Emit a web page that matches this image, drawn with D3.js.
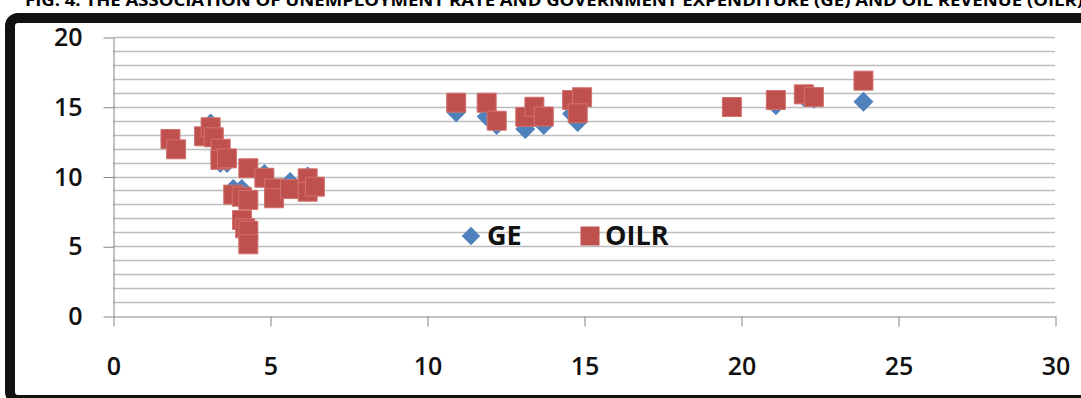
<!DOCTYPE html>
<html>
<head>
<meta charset="utf-8">
<script src="https://cdn.jsdelivr.net/npm/d3@7"></script>
<style>
  html, body { margin: 0; padding: 0; background: #fff; }
  svg { display: block; font-family: "Open Sans", sans-serif; }
</style>
</head>
<body>
<svg id="chart" width="1081" height="398"></svg>
<script>
// Unemployment rate (x) vs government expenditure and oil revenue (y)
const title = 'FIG. 4: THE ASSOCIATION OF UNEMPLOYMENT RATE AND GOVERNMENT EXPENDITURE (GE) AND OIL REVENUE (OILR)';
const unemp = [1.83, 2.01, 2.90, 3.11, 3.21, 3.43, 3.42, 3.63, 4.31, 4.82, 3.83, 4.10, 4.31, 4.11, 4.21, 4.31, 4.31,
               5.13, 5.13, 5.64, 6.20, 6.20, 6.43,
               10.93, 11.90, 12.22, 13.13, 13.42, 13.72, 14.62, 14.94, 14.80,
               19.71, 21.11, 22.00, 22.32, 23.90];
const ge = [12.6, 11.95, 12.9, 13.8, 12.8, 11.95, 10.97, 10.97, 10.6, 10.18, 9.1, 9.1, 8.4, 6.9, 6.3, 6.2, 5.2,
            9.15, 8.5, 9.6, 10.0, 8.9, 9.3,
            14.6, 14.3, 13.7, 13.4, 14.9, 13.7, 14.5, 15.3, 13.9,
            15.0, 15.1, 15.7, 15.6, 15.36];
const oilr = [12.69, 11.95, 12.88, 13.53, 12.81, 11.99, 11.2, 11.3, 10.59, 9.91, 8.7, 8.55, 8.32, 6.88, 6.29, 6.11, 5.14,
              9.15, 8.44, 9.1, 9.87, 8.91, 9.27,
              15.29, 15.29, 14.0, 14.27, 15.0, 14.3, 15.48, 15.68, 14.53,
              14.98, 15.48, 15.89, 15.7, 16.87];
const xTicks = [0, 5, 10, 15, 20, 25, 30];
const yTicks = [0, 5, 10, 15, 20];
const seriesNames = ['GE', 'OILR'];

const svg = d3.select('#chart');

// Title (mostly cut off at the top edge, as in the source)
svg.append('text')
    .attr('x', 25).attr('y', 6)
    .attr('textLength', 1058)
    .attr('lengthAdjust', 'spacingAndGlyphs')
    .style('font-size', '16px').style('font-weight', 700)
    .text(title);

// Black frame
svg.append('rect')
    .attr('x', 10).attr('y', 18)
    .attr('width', 1100).attr('height', 382)
    .attr('rx', 8)
    .attr('fill', 'none').attr('stroke', '#111').attr('stroke-width', 10);

const x = d3.scaleLinear().domain([0, 30]).range([113, 1055]);
const y = d3.scaleLinear().domain([0, 20]).range([316, 37]);

// Horizontal gridlines every unit
svg.append('g').selectAll('line')
    .data(d3.range(1, 21))
    .join('line')
    .attr('x1', x(0)).attr('x2', x(30))
    .attr('y1', d => Math.round(y(d)) + 0.5).attr('y2', d => Math.round(y(d)) + 0.5)
    .attr('stroke', '#bdbdbd').attr('stroke-width', 1.3);

// Axes
const yAxis = svg.append('g')
    .attr('transform', `translate(${x(0) + 0.5},0.5)`)
    .call(d3.axisLeft(y).tickValues(yTicks).tickSize(10).tickSizeOuter(0).tickPadding(21));
const xAxis = svg.append('g')
    .attr('transform', `translate(0.5,${y(0) + 0.5})`)
    .call(d3.axisBottom(x).tickValues(xTicks).tickSize(10).tickSizeOuter(0).tickPadding(31));

[xAxis, yAxis].forEach(a => {
    a.selectAll('path, line').attr('stroke', '#868686');
    a.selectAll('text')
        .attr('fill', '#111')
        .style('font-family', '"Open Sans", sans-serif')
        .style('font-size', '25px').style('font-weight', 600);
});

// Markers: GE diamonds drawn first, OILR squares on top
const diamond = d3.symbol().type(d3.symbolSquare).size(200);
const square = d3.symbol().type(d3.symbolSquare).size(361);

svg.append('g').selectAll('path')
    .data(unemp.map((u, i) => [u, ge[i]]))
    .join('path')
    .attr('d', diamond)
    .attr('transform', d => `translate(${x(d[0])},${y(d[1])}) rotate(45)`)
    .attr('fill', '#4f81bd');

svg.append('g').selectAll('path')
    .data(unemp.map((u, i) => [u, oilr[i]]))
    .join('path')
    .attr('d', square)
    .attr('transform', d => `translate(${x(d[0])},${y(d[1])})`)
    .attr('fill', '#c0504d')
    .attr('stroke', '#d0726f').attr('stroke-width', 1);

// Legend
const legend = svg.append('g').style('font-size', '27px').style('font-weight', 700);
legend.append('path')
    .attr('d', d3.symbol().type(d3.symbolSquare).size(170))
    .attr('transform', 'translate(471,236) rotate(45)')
    .attr('fill', '#4f81bd');
legend.append('text').attr('x', 487).attr('y', 245).attr('fill', '#111').text(seriesNames[0]);
legend.append('path')
    .attr('d', d3.symbol().type(d3.symbolSquare).size(361))
    .attr('transform', 'translate(590,236)')
    .attr('fill', '#c0504d');
legend.append('text').attr('x', 605).attr('y', 245).attr('fill', '#111').text(seriesNames[1]);
</script>
</body>
</html>
